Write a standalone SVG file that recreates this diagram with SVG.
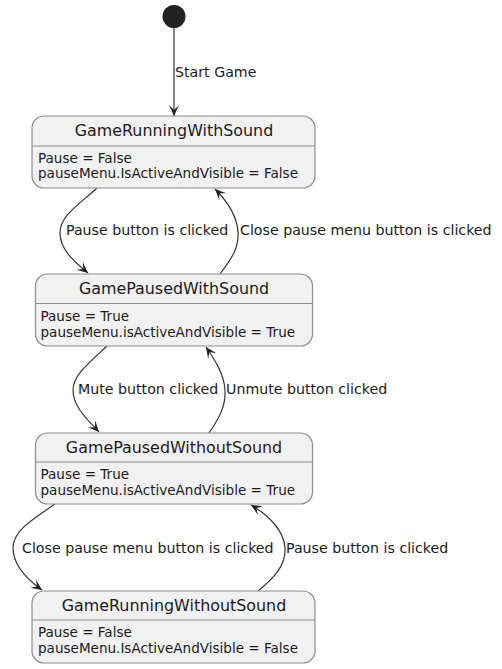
<svg xmlns="http://www.w3.org/2000/svg" width="502" height="669" viewBox="0 0 502 669">
<style>
.box{fill:#F1F1F1;stroke:#8c8c8c;stroke-width:1.2}
.sep{stroke:#8c8c8c;stroke-width:1.2}
.title{font-family:"DejaVu Sans",sans-serif;font-size:15.9px;fill:#1a1a1a;text-anchor:middle}
.body{font-family:"DejaVu Sans",sans-serif;font-size:13.55px;fill:#1a1a1a}
.lbl{font-family:"DejaVu Sans",sans-serif;font-size:14.2px;fill:#1a1a1a}
.edge{fill:none;stroke:#333;stroke-width:1.2}
</style>
<defs>
<marker id="ah" markerUnits="userSpaceOnUse" markerWidth="14" markerHeight="12" viewBox="-12 -6 14 12" refX="0" refY="0" orient="auto">
<path d="M0,0 L-11,-5 L-6,0 L-11,5 Z" fill="#222"/>
</marker>
</defs>
<rect width="502" height="669" fill="#ffffff"/>
<g id="start">
<circle cx="174" cy="16.5" r="11.5" fill="#222"/>
</g>
<g id="connectors">
<path class="edge" d="M174,28 L174,116" marker-end="url(#ah)"/>
<text class="lbl" x="175" y="77">Start Game</text>
<path class="edge" d="M97,188 C80,204 60,215 60,233 C60,250 75,262 88,273" marker-end="url(#ah)"/>
<text class="lbl" x="66" y="235">Pause button is clicked</text>
<path class="edge" d="M220,274 C232,258 239,248 238,232 C237,215 226,200 215,189" marker-end="url(#ah)"/>
<text class="lbl" x="240" y="235">Close pause menu button is clicked</text>
<path class="edge" d="M107,346 C90,362 73,375 73,390 C73,407 88,420 99,432" marker-end="url(#ah)"/>
<text class="lbl" x="78" y="394">Mute button clicked</text>
<path class="edge" d="M209,433 C220,417 226,405 225,390 C224,374 215,360 206,347" marker-end="url(#ah)"/>
<text class="lbl" x="226" y="394">Unmute button clicked</text>
<path class="edge" d="M55,504 C35,518 13,530 13,548 C13,565 28,580 42,590" marker-end="url(#ah)"/>
<text class="lbl" x="22" y="553">Close pause menu button is clicked</text>
<path class="edge" d="M258,591 C275,577 286,565 285,548 C284,530 268,515 251,505" marker-end="url(#ah)"/>
<text class="lbl" x="286" y="553">Pause button is clicked</text>
</g>
<g id="GameRunningWithSound">
<rect class="box" x="32" y="116" width="283" height="72" rx="12"/>
<line class="sep" x1="32" y1="146" x2="315" y2="146"/>
<text class="title" x="174" y="136">GameRunningWithSound</text>
<text class="body" x="38" y="163">Pause = False</text>
<text class="body" x="38" y="178">pauseMenu.IsActiveAndVisible = False</text>
</g>
<g id="GamePausedWithSound">
<rect class="box" x="35.5" y="274" width="277" height="72" rx="12"/>
<line class="sep" x1="35.5" y1="303.5" x2="312.5" y2="303.5"/>
<text class="title" x="174" y="294">GamePausedWithSound</text>
<text class="body" x="40.5" y="321">Pause = True</text>
<text class="body" x="40.5" y="337">pauseMenu.isActiveAndVisible = True</text>
</g>
<g id="GamePausedWithoutSound">
<rect class="box" x="35.5" y="433" width="277" height="71" rx="12"/>
<line class="sep" x1="35.5" y1="462" x2="312.5" y2="462"/>
<text class="title" x="174" y="453">GamePausedWithoutSound</text>
<text class="body" x="40.5" y="479">Pause = True</text>
<text class="body" x="40.5" y="495">pauseMenu.isActiveAndVisible = True</text>
</g>
<g id="GameRunningWithoutSound">
<rect class="box" x="32" y="591" width="283" height="72" rx="12"/>
<line class="sep" x1="32" y1="620" x2="315" y2="620"/>
<text class="title" x="174" y="611">GameRunningWithoutSound</text>
<text class="body" x="38" y="637">Pause = False</text>
<text class="body" x="38" y="653">pauseMenu.IsActiveAndVisible = False</text>
</g>
</svg>
